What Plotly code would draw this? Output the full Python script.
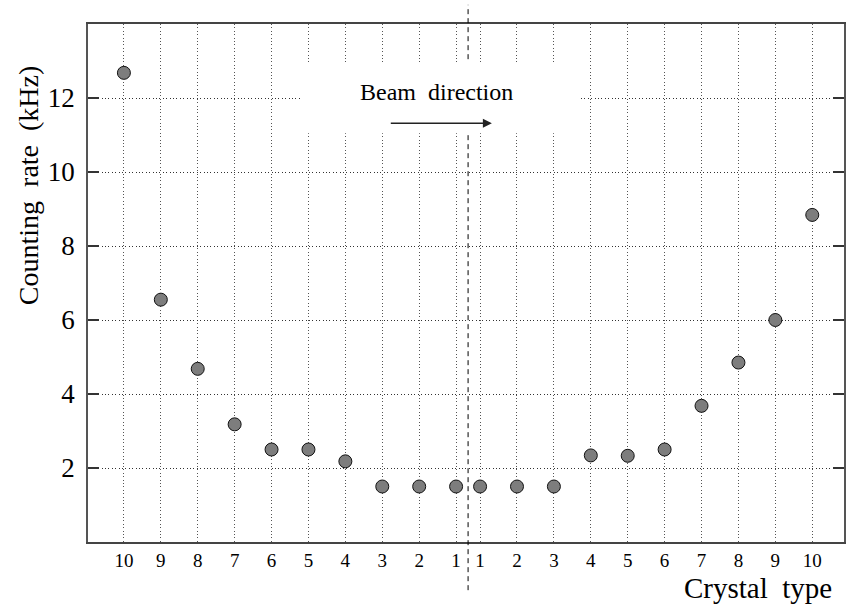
import plotly.graph_objects as go

# Counting rate per crystal type, upstream half (10 -> 1) and downstream half (1 -> 10)
left_types = [10, 9, 8, 7, 6, 5, 4, 3, 2, 1]
left_rates = [12.68, 6.55, 4.68, 3.18, 2.50, 2.50, 2.18, 1.50, 1.50, 1.50]
right_types = [1, 2, 3, 4, 5, 6, 7, 8, 9, 10]
right_rates = [1.50, 1.50, 1.50, 2.34, 2.33, 2.50, 3.68, 4.85, 6.00, 8.84]
y_ticks = [2, 4, 6, 8, 10, 12]

# horizontal layout: one unit per crystal, the two halves separated by a reduced gap
half_offset = len(left_types) - 1 + 0.65
left_x = list(range(len(left_types)))
right_x = [half_offset + i for i in range(len(right_types))]
split_x = (left_x[-1] + right_x[0]) / 2

FONT = "Liberation Serif"
SP = "\u00a0\u00a0"

fig = go.Figure()
fig.add_trace(go.Scatter(
    x=left_x + right_x,
    y=left_rates + right_rates,
    mode="markers",
    marker=dict(size=13, color="#7d7d7d", line=dict(color="#111", width=1)),
    showlegend=False,
    hoverinfo="skip",
))

fig.update_layout(
    width=846, height=606,
    margin=dict(l=88, r=0, t=24, b=64),
    plot_bgcolor="white", paper_bgcolor="white",
    font=dict(family=FONT, color="black"),
    xaxis=dict(
        range=[-0.973, 19.51],
        tickvals=left_x + right_x,
        ticktext=[str(t) for t in left_types + right_types],
        tickfont=dict(size=19, family=FONT, color="black"),
        ticks="", showline=True, linecolor="#444", linewidth=1.5, mirror=True,
        showgrid=True, gridcolor="#555", griddash="1px,2.4px", gridwidth=1,
        zeroline=False, fixedrange=True,
    ),
    yaxis=dict(
        range=[0, 14],
        tickvals=y_ticks,
        tickfont=dict(size=27, family=FONT, color="black"),
        ticks="inside", ticklen=11, tickcolor="#333", tickwidth=1.5,
        showline=True, linecolor="#555", linewidth=1.5, mirror="ticks",
        showgrid=True, gridcolor="#333", griddash="1px,2.4px", gridwidth=1,
        zeroline=False, ticklabelstandoff=6, fixedrange=True,
    ),
)

# separation between the two halves, extending beyond the frame
fig.add_shape(type="line", xref="x", yref="paper",
              x0=split_x, x1=split_x, y0=-0.093, y1=1.037,
              line=dict(color="black", width=1, dash="5px,4px"), layer="above")
# blank panel behind the beam label
fig.add_shape(type="rect", xref="x", yref="y",
              x0=4.81, x1=12.38, y0=11.05, y1=12.95,
              fillcolor="white", line=dict(width=0), layer="above")

fig.add_annotation(text="Beam" + SP + "direction", x=8.46, y=12.16, xref="x", yref="y",
                   showarrow=False, font=dict(size=24, family=FONT, color="black"))
fig.add_annotation(x=9.97, y=11.32, ax=7.19, ay=11.32, xref="x", yref="y",
                   axref="x", ayref="y", text="", showarrow=True,
                   arrowhead=2, arrowsize=1.2, arrowwidth=1.5, arrowcolor="#222")

# axis titles
fig.add_annotation(text="Counting" + SP + "rate" + SP + "(kHz)", textangle=-90,
                   xref="paper", yref="paper", x=(28 - 88) / 758, y=(542 - 185) / 518,
                   xanchor="center", yanchor="middle", showarrow=False,
                   font=dict(size=28, family=FONT, color="black"))
fig.add_annotation(text="Crystal" + SP + "type",
                   xref="paper", yref="paper", x=(760 - 88) / 758, y=(542 - 588) / 518,
                   xanchor="center", yanchor="middle", showarrow=False,
                   font=dict(size=29, family=FONT, color="black"))

fig.write_html("out.html")
